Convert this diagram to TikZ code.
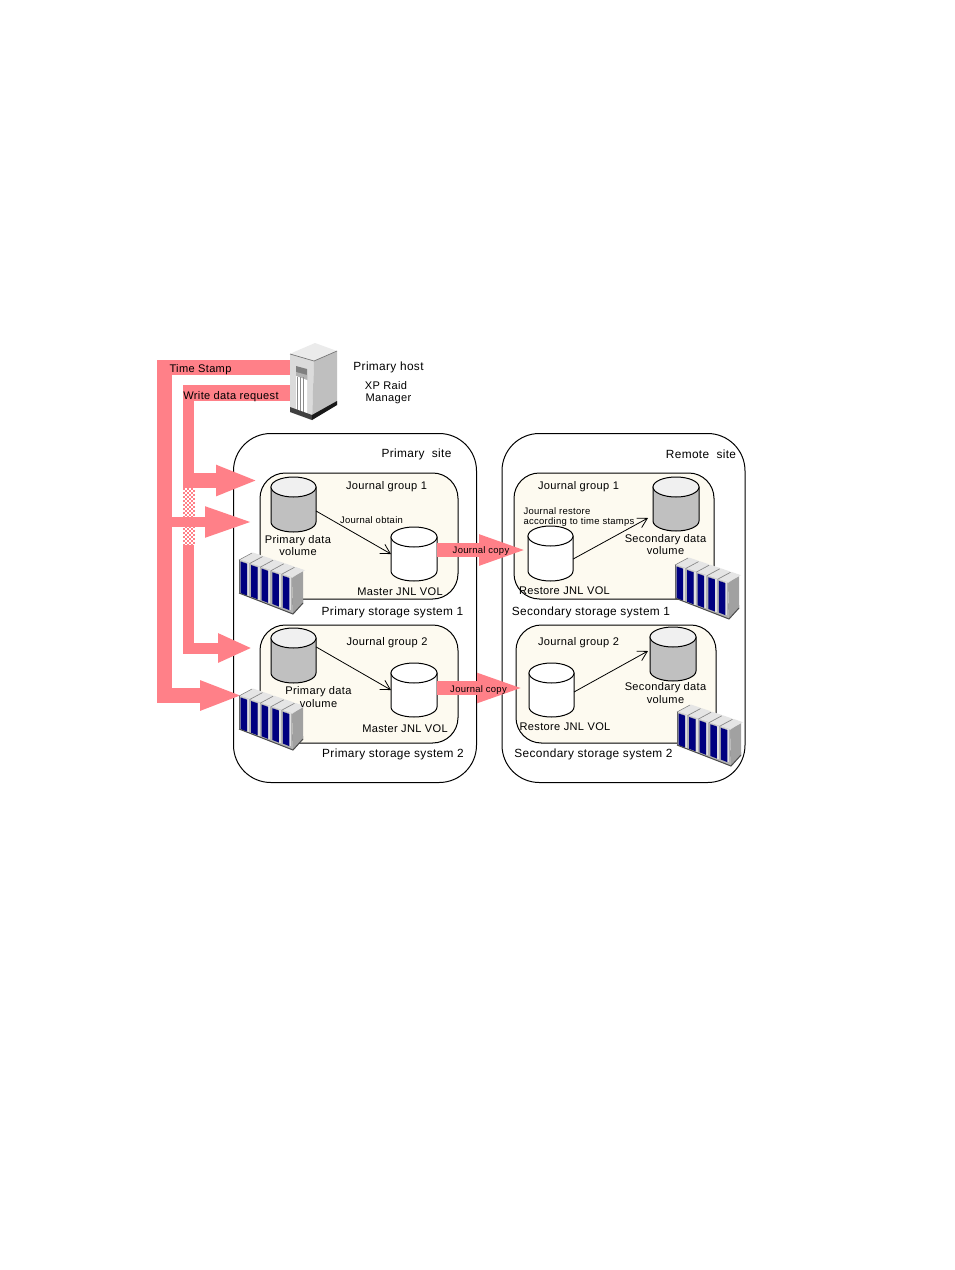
\documentclass[tikz,border=0pt]{standalone}
\usepackage{fontspec}
\setmainfont{Liberation Sans}[LetterSpace=3]
\usetikzlibrary{arrows.meta,calc}
\definecolor{bandpink}{HTML}{FF8088}
\definecolor{groupfill}{HTML}{FDFAF0}
\definecolor{cylgrey}{HTML}{C0C0C0}
\definecolor{cyltop}{HTML}{F0F0F0}
\definecolor{rackblue}{HTML}{000080}
\newcommand{\cylinderat}[7]{% name cx cy w h body top
  \node[anchorbox,minimum width=#4*0.75pt,minimum height=#5*0.75pt] (#1) at (#2,#3) {};
  \draw[cylline,fill=#6] ($(#1.north west)+(0,10)$) -- ($(#1.south west)+(0,-10)$)
    arc[start angle=180,end angle=0,x radius=#4/2,y radius=10]
    -- ($(#1.north east)+(0,10)$) -- cycle;
  \draw[cylline,fill=#7] ($(#1.north)+(0,10)$) ellipse[x radius=#4/2,y radius=10];
}
\tikzset{
  anchorbox/.style={rectangle,draw=none,inner sep=0pt,outer sep=0pt},
  cylline/.style={draw=black,line width=0.75pt},
  sitebox/.style={rectangle,draw=black,fill=white,line width=0.75pt,rounded corners=28pt,minimum width=243*0.75pt,minimum height=349*0.75pt},
  groupbox/.style={rectangle,draw=black,fill=groupfill,line width=0.75pt,rounded corners=19pt,minimum height=126*0.75pt},
  band/.style={draw=bandpink,line cap=butt},
  flow/.style={draw=black,line width=0.6pt,-{Straight Barb[length=7pt,width=8pt]}},
  lbl/.style={inner sep=0pt,outer sep=0pt,yshift=-1pt,font=\fontsize{8.9pt}{10pt}\selectfont,align=center},
  lblb/.style={lbl,font=\fontsize{8.3pt}{10pt}\selectfont},
  smalllbl/.style={inner sep=0pt,outer sep=0pt,yshift=-0.8pt,font=\fontsize{7.1pt}{8pt}\selectfont,align=left},
  rack/.pic={
    \fill[black!65] (0,33) -- (54,54) -- (64,43) -- (64,40) -- (0,30) -- cycle;
    \fill[black!37] (53,18) -- (64,10) -- (64,43) -- (54,54) -- cycle;
    \fill[black!30] (0,0) -- (53,18) -- (54,54) -- (0,33) -- cycle;
    \fill[black!20] (0,0) -- (13,-7) -- (64,10) -- (53,18) -- cycle;
    \foreach \i in {0,...,4}{
      \fill[black!10] (1+10.6*\i,-0.5+0.34*10.6*\i) -- ++(13,-7) -- ++(9.6,3.3) -- ++(-13,7) -- cycle;
      \draw[black!50,line width=0.4pt] (10.6*\i,0.34*10.6*\i) -- ++(13,-7);
      \fill[black!12] (8+10.6*\i,3+0.34*10.6*\i) rectangle ++(2,33);
      \fill[rackblue] (1.5+10.6*\i,1.5+0.34*10.6*\i) -- ++(6.5,2.2) -- ++(0,32) -- ++(-6.5,-2.6) -- cycle;
    }
    \draw[black!70,line width=0.75pt] (0,33) -- (54,54) -- (64,43);
    \draw[black!60,line width=0.5pt] (0,0) -- (0,33);
  },
}
\begin{document}
\begin{tikzpicture}[x=0.75pt,y=-0.75pt]
\useasboundingbox (0,0) rectangle (954,1270);
\fill[white] (0,0) rectangle (954,1270);

% sites
\node[sitebox] (psite) at (355,608) {};
\node[sitebox] (rsite) at (623.5,608) {};
% journal groups
\node[groupbox,minimum width=198*0.75pt] (pg1) at (359,536) {};
\node[groupbox,minimum width=198*0.75pt,minimum height=118*0.75pt] (pg2) at (359,684) {};
\node[groupbox,minimum width=200*0.75pt] (sg1) at (614,536) {};
\node[groupbox,minimum width=200*0.75pt,minimum height=118*0.75pt] (sg2) at (616,684) {};

% host anchor
\node[anchorbox,minimum width=47*0.75pt,minimum height=77*0.75pt] (host) at (313.5,381.5) {};

% free ends of the thick arrows
\coordinate (tsCorner) at (164.5,367.5);
\coordinate (tsBottom) at (164.5,695.5);
\coordinate (tsTip) at (243,695.5);
\coordinate (tsMid) at (172,522);
\coordinate (midTip) at (253,522);
\coordinate (wrCorner) at (183,393);
\coordinate (wrTop) at (188.5,385);
\coordinate (wrBottom) at (188.5,648);
\coordinate (wrTip) at (252,648);
\coordinate (brStart) at (188.5,480.5);
\coordinate (brTip) at (258,480.5);

% thick arrows
\draw[band,line width=15*0.75pt,-{Triangle[length=43*0.75pt,width=27*0.75pt]}]
  ($(host.west)+(0,-14)$) -- (tsCorner) -- (tsBottom) -- (tsTip);
\draw[band,line width=16*0.75pt] ($(host.west)+(0,11.5)$) -- (wrCorner);
\draw[band,line width=11*0.75pt,-{Triangle[length=34*0.75pt,width=27*0.75pt]}]
  (wrTop) -- (wrBottom) -- (wrTip);
\draw[band,line width=15*0.75pt,-{Triangle[length=42*0.75pt,width=28*0.75pt]}]
  (brStart) -- (brTip);
% dithered crossing
\fill[white] (183,488) rectangle (194,545);
\foreach \i in {0,...,5}{\foreach \j in {0,...,28}{
  \pgfmathtruncatemacro\k{mod(\i+\j,2)}
  \ifnum\k=0 \fill[bandpink] (183+2*\i,488+2*\j) rectangle ++(1.9,2); \fi
}}
\draw[band,line width=10.5*0.75pt,-{Triangle[length=48*0.75pt,width=28*0.75pt]}]
  (tsMid) -- (midTip);

% host drawing
\fill[black!8] (294,352) -- (315,343) -- (337,351) -- (314,361) -- (290,354) -- cycle;
\fill[black!14] (290,354) -- (314,361) -- (312,420) -- (290,412) -- cycle;
\fill[black!25] (314,361) -- (337,351) -- (337,405) -- (312,420) -- cycle;
\draw[black!55,line width=0.5pt] (290,354) -- (314,361) -- (337,351);
\fill[black!50] (296,366) -- (307,369) -- (307,380) -- (296,376) -- cycle;
\fill[black!30] (296,372) -- (307,375) -- (307,380) -- (296,376) -- cycle;
\fill[white] (296,376) -- (307,380) -- (307,414) -- (296,411) -- cycle;
\foreach \sx in {297.5,300.5,303.5}{\draw[black!45,line width=0.5pt] (\sx,377) -- (\sx,412);}
\fill[black!75] (290,407) -- (312,415) -- (312,420) -- (290,412) -- cycle;
\fill[black!90] (312,415) -- (337,401) -- (337,405) -- (312,420) -- cycle;

% free ends of journal copy arrows
\coordinate (jc1Tip) at (529,550);
\coordinate (jc2Tip) at (526,688);

% cylinders
\cylinderat{pd1}{293.5}{504.5}{45}{55}{cylgrey}{cyltop}
\cylinderat{mj1}{414}{554}{46}{54}{white}{white}
\cylinderat{pd2}{293.5}{655.5}{45}{55}{cylgrey}{cyltop}
\cylinderat{mj2}{414}{690}{46}{54}{white}{white}
\cylinderat{rj1}{550.5}{553.5}{45}{55}{white}{white}
\cylinderat{sd1}{676}{504}{46}{54}{cylgrey}{cyltop}
\cylinderat{rj2}{551.5}{690}{45}{54}{white}{white}
\cylinderat{sd2}{673}{654}{46}{54}{cylgrey}{cyltop}

\draw[band,line width=14*0.75pt,-{Triangle[length=50*0.75pt,width=27*0.75pt]}] (mj1.east) ++(0,-4) -- (jc1Tip);
\draw[band,line width=14*0.75pt,-{Triangle[length=49*0.75pt,width=26*0.75pt]}] (mj2.east) ++(0,-2) -- (jc2Tip);

% connectors between volumes
\coordinate (sd1In) at (648,518);
\coordinate (sd2In) at (648,651);
\draw[flow] (pd1.-16) -- (mj1.west);
\draw[flow] (pd2.21) -- (mj2.west);
\draw[flow] (rj1.-14) -- (sd1In);
\draw[flow] (rj2.east) ++(0,2) -- (sd2In);

% storage racks
\pic at (239,560) {rack};
\pic at (239,696) {rack};
\pic at (675,565) {rack};
\pic at (677,712) {rack};

% labels
\node[lblb] (tTS) at (200.5,368) {Time Stamp};
\node[lblb] (tWR) at (231,395) {Write data request};
\node[lbl] (tPH) at (388.5,366) {Primary host};
\node[lblb] (tXP) at (386,384) {XP Raid};
\node[lblb] (tMG) at (388.5,398) {Manager};
\node[lbl] (tPS) at (416.5,453) {Primary\ \ site};
\node[lbl] (tRS) at (701,453) {Remote\ \ site};
\node[lblb] (tJG1) at (386.5,485) {Journal group 1};
\node[lblb,align=center] (tPD1) at (298,544.5) {Primary data\\[-1.2pt]volume};
\node[smalllbl] (tJO) at (371.5,519) {Journal obtain};
\node[lblb] (tMJ1) at (400,590) {Master JNL VOL};
\node[lbl] (tPSS1) at (392.5,611) {Primary storage system 1};
\node[lblb] (tJG2) at (387,641) {Journal group 2};
\node[lblb] (tPD2) at (318.5,695.5) {Primary data\\[-0.5pt]volume};
\node[lblb] (tMJ2) at (405,727) {Master JNL VOL};
\node[lbl] (tPSS2) at (393,753) {Primary storage system 2};
\node[smalllbl] (tJC1) at (481,550) {Journal copy};
\node[smalllbl] (tJC2) at (478.5,689) {Journal copy};
\node[lblb] (tJG3) at (578.5,485) {Journal group 1};
\node[lblb] (tJG4) at (578.5,641) {Journal group 2};
\node[smalllbl] (tJR) at (579,515.5) {Journal restore\\[-0.5pt]according to time stamps};
\node[lblb] (tRJ1) at (564.5,589) {Restore JNL VOL};
\node[lblb] (tRJ2) at (565,725) {Restore JNL VOL};
\node[lblb] (tSD1) at (665.5,543) {Secondary data\\[-1.2pt]volume};
\node[lblb] (tSD2) at (665.5,691.5) {Secondary data\\[-0.5pt]volume};
\node[lbl] (tSS1) at (591,611) {Secondary storage system 1};
\node[lbl] (tSS2) at (593.5,753) {Secondary storage system 2};
\end{tikzpicture}
\end{document}
